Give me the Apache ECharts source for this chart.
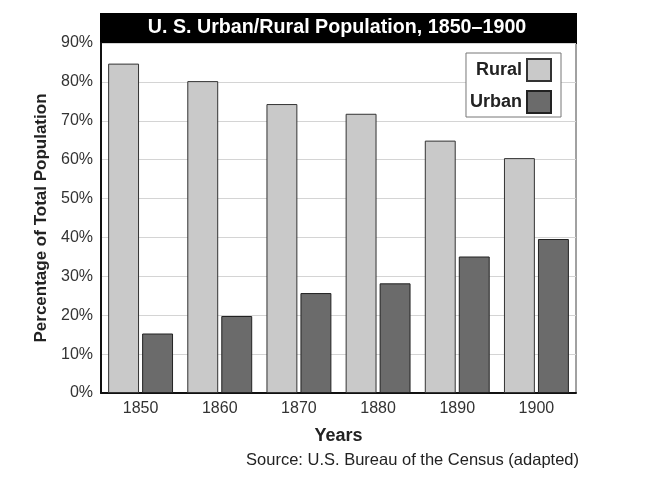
<!DOCTYPE html>
<html>
<head>
<meta charset="utf-8">
<script src="https://cdn.jsdelivr.net/npm/echarts@6/dist/echarts.min.js"></script>
<style>
  html, body { margin: 0; padding: 0; background: #fff; }
  #chart { width: 647px; height: 496px; }
</style>
</head>
<body>
<div id="chart"></div>
<script>
// 数据
var years = ['1850', '1860', '1870', '1880', '1890', '1900'];
var rural = [84.7, 80.2, 74.3, 71.8, 64.9, 60.4];
var urban = [15.3, 19.8, 25.7, 28.2, 35.1, 39.6];
var yTicks = [0, 10, 20, 30, 40, 50, 60, 70, 80, 90];

var chart = echarts.init(document.getElementById('chart'));
var fontFam = 'Liberation Sans, Arial, sans-serif';

var option = {
    animation: false,
    textStyle: { fontFamily: fontFam },
    grid: {
        left: 101, right: 71, top: 43, bottom: 103,
        show: true, borderColor: '#444', borderWidth: 1
    },
    graphic: [
        {
            type: 'rect',
            shape: { x: 100, y: 13, width: 477, height: 31 },
            style: { fill: '#000' }
        },
        {
            type: 'text',
            x: 337, y: 28,
            style: {
                text: 'U. S. Urban/Rural Population, 1850\u20131900',
                fill: '#fff', font: 'bold 19.7px ' + fontFam,
                align: 'center', verticalAlign: 'middle'
            }
        },
        {
            type: 'text',
            x: 579, y: 460,
            style: {
                text: 'Source: U.S. Bureau of the Census (adapted)',
                fill: '#222', font: '16.5px ' + fontFam,
                align: 'right', verticalAlign: 'middle'
            }
        }
    ],
    legend: {
        data: ['Rural', 'Urban'],
        orient: 'vertical',
        align: 'right',
        right: 86, top: 53,
        padding: [5, 9, 3, 4],
        itemGap: 8,
        itemWidth: 24, itemHeight: 22,
        icon: 'rect',
        backgroundColor: '#fff',
        borderColor: '#777', borderWidth: 1,
        textStyle: { fontSize: 18, fontWeight: 'bold', color: '#222' }
    },
    xAxis: {
        type: 'category',
        data: years,
        name: 'Years',
        nameLocation: 'middle',
        nameGap: 34,
        nameTextStyle: { fontSize: 18, fontWeight: 'bold', color: '#222' },
        axisLine: { lineStyle: { color: '#111', width: 2 } },
        axisTick: { show: false },
        axisLabel: { fontSize: 16, color: '#333', margin: 8 }
    },
    yAxis: {
        type: 'value',
        min: yTicks[0], max: yTicks[yTicks.length - 1], interval: 10,
        name: 'Percentage of Total Population',
        nameLocation: 'middle',
        nameGap: 47,
        nameTextStyle: { fontSize: 17, fontWeight: 'bold', color: '#222' },
        axisLine: { show: true, lineStyle: { color: '#111', width: 2 } },
        axisTick: { show: false },
        axisLabel: { fontSize: 16, color: '#333', margin: 8, formatter: '{value}%' },
        splitLine: { lineStyle: { color: '#d4d4d4', width: 1 } }
    },
    series: [
        {
            name: 'Rural',
            type: 'bar',
            data: rural,
            barGap: '10%',
            barCategoryGap: '18%',
            itemStyle: { color: '#c9c9c9', borderColor: '#333', borderWidth: 1 }
        },
        {
            name: 'Urban',
            type: 'bar',
            data: urban,
            itemStyle: { color: '#6b6b6b', borderColor: '#222', borderWidth: 1 }
        }
    ]
};
chart.setOption(option);
</script>
</body>
</html>
